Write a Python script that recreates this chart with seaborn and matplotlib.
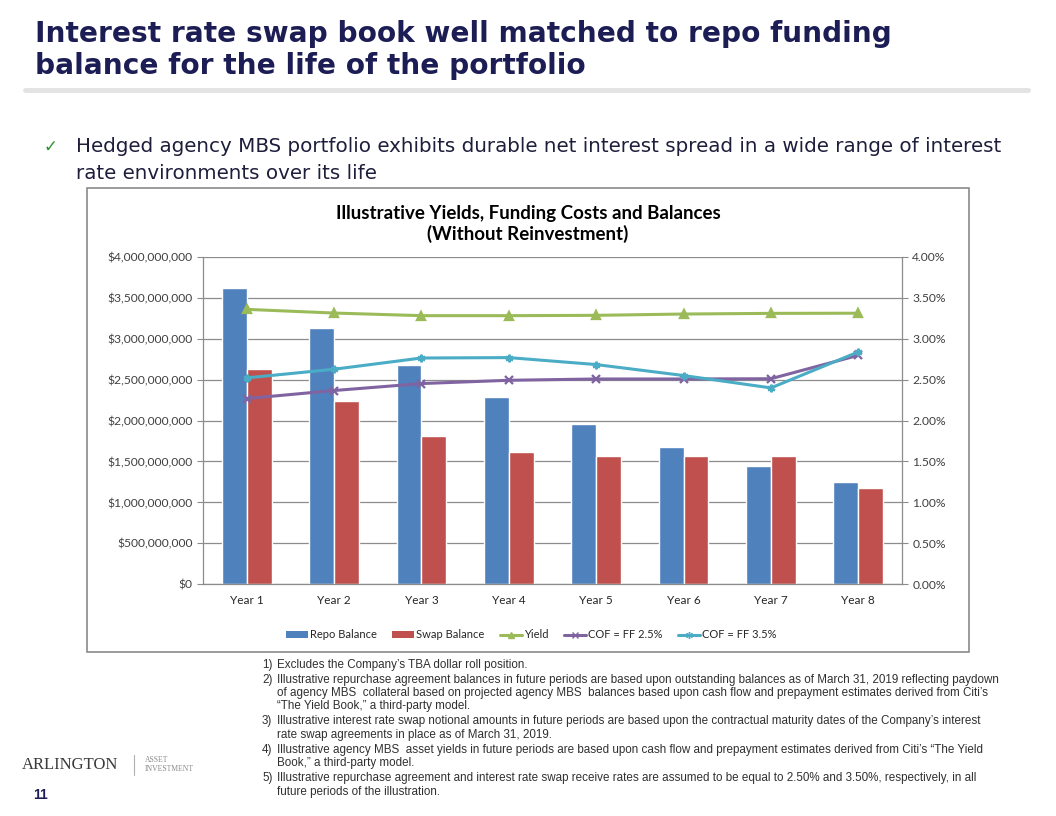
import numpy as np
import pandas as pd
import matplotlib
matplotlib.use("Agg")
import matplotlib.pyplot as plt
import seaborn as sns
from matplotlib.patches import Rectangle, Patch
from matplotlib.lines import Line2D
from matplotlib.ticker import FuncFormatter, MultipleLocator

# ---------------- data ----------------
years = ["Year 1", "Year 2", "Year 3", "Year 4", "Year 5", "Year 6", "Year 7", "Year 8"]
repo_balance = [3.622e9, 3.129e9, 2.678e9, 2.288e9, 1.959e9, 1.674e9, 1.443e9, 1.244e9]
swap_balance = [2.626e9, 2.235e9, 1.812e9, 1.610e9, 1.568e9, 1.568e9, 1.570e9, 1.171e9]
yield_pct = [3.357, 3.312, 3.280, 3.280, 3.284, 3.300, 3.308, 3.310]
cof_25 = [2.268, 2.366, 2.451, 2.491, 2.507, 2.507, 2.510, 2.796]
cof_35 = [2.520, 2.626, 2.763, 2.768, 2.683, 2.549, 2.398, 2.837]

bar_series = ["Repo Balance", "Swap Balance"]
line_series = ["Yield", "COF = FF 2.5%", "COF = FF 3.5%"]

title_lines = ["Interest rate swap book well matched to repo funding",
               "balance for the life of the portfolio"]
bullet_lines = ["Hedged agency MBS portfolio exhibits durable net interest spread in a wide range of interest",
                "rate environments over its life"]
chart_title = "Illustrative Yields, Funding Costs and Balances\n(Without Reinvestment)"
footnotes = [
    ("1)", ["Excludes the Company\u2019s TBA dollar roll position."]),
    ("2)", ["Illustrative repurchase agreement balances in future periods are based upon outstanding balances as of March 31, 2019 reflecting paydown",
            "of agency MBS  collateral based on projected agency MBS  balances based upon cash flow and prepayment estimates derived from Citi\u2019s",
            "\u201cThe Yield Book,\u201d a third-party model."]),
    ("3)", ["Illustrative interest rate swap notional amounts in future periods are based upon the contractual maturity dates of the Company\u2019s interest",
            "rate swap agreements in place as of March 31, 2019."]),
    ("4)", ["Illustrative agency MBS  asset yields in future periods are based upon cash flow and prepayment estimates derived from Citi\u2019s \u201cThe Yield",
            "Book,\u201d a third-party model."]),
    ("5)", ["Illustrative repurchase agreement and interest rate swap receive rates are assumed to be equal to 2.50% and 3.50%, respectively, in all",
            "future periods of the illustration."]),
]

bar_colors = ["#4F81BD", "#C0504D"]
line_colors = ["#9BBB59", "#8064A2", "#4BACC6"]

bars_df = pd.DataFrame({
    "Year": years * 2,
    "Series": [bar_series[0]] * len(years) + [bar_series[1]] * len(years),
    "Value": repo_balance + swap_balance,
})
lines_df = pd.DataFrame({
    "Year": years * 3,
    "Series": sum([[s] * len(years) for s in line_series], []),
    "Rate": yield_pct + cof_25 + cof_35,
})

# ---------------- figure ----------------
W, H = 1056, 816
fig = plt.figure(figsize=(W / 100, H / 100), dpi=100)
fig.patch.set_facecolor("white")

def fx(x):
    return x / W

def fy(y):
    return 1 - y / H

sns.set_style("white")
chart_font = ["Lato", "DejaVu Sans"]
sans = ["Liberation Sans", "DejaVu Sans"]
wide = ["DejaVu Sans"]

# page title
navy = "#1d1d55"
fig.text(fx(35), fy(42), title_lines[0], fontsize=20.2, fontweight="bold", color=navy,
         family=wide, va="baseline", ha="left")
fig.text(fx(35), fy(74), title_lines[1], fontsize=20.2, fontweight="bold", color=navy,
         family=wide, va="baseline", ha="left")
fig.add_artist(Line2D([fx(25), fx(1028)], [fy(90), fy(90)], color="#e3e3e3", lw=3.5))

# bullet
fig.text(fx(44), fy(152), "\u2713", fontsize=12, color="#2f8f2f", family=["DejaVu Sans"],
         va="baseline", ha="left")
fig.text(fx(76), fy(152), bullet_lines[0], fontsize=14.3, color="#1e1e3c", family=wide,
         va="baseline", ha="left")
fig.text(fx(76), fy(179), bullet_lines[1], fontsize=14.3, color="#1e1e3c", family=wide,
         va="baseline", ha="left")

# chart frame
fig.add_artist(Rectangle((fx(87), fy(652)), fx(969) - fx(87), fy(188) - fy(652),
                         transform=fig.transFigure, fill=False, edgecolor="#8a8a8a", lw=1.2))
fig.text(fx(528), fy(224), chart_title, fontsize=13.5, fontweight="bold", color="black",
         family=chart_font, ha="center", va="center", linespacing=1.2)

# axes
ax = fig.add_axes([fx(203), fy(584.3), fx(902) - fx(203), fy(256.7) - fy(584.3)])
sns.barplot(data=bars_df, x="Year", y="Value", hue="Series", palette=bar_colors,
            width=0.57, gap=0, saturation=1, ax=ax, legend=False, errorbar=None)
ax.set_ylim(0, 4e9)
ax.yaxis.set_major_locator(MultipleLocator(5e8))
ax.yaxis.set_major_formatter(FuncFormatter(lambda v, p: "${:,.0f}".format(v)))
ax.set_xlim(-0.5, len(years) - 0.5)
ax.set_axisbelow(True)
ax.grid(axis="y", color="#8c8c8c", lw=0.9)
ax.grid(axis="x", visible=False)
ax.set_xlabel("")
ax.set_ylabel("")
for s in ["top", "right"]:
    ax.spines[s].set_visible(False)
for s in ["left", "bottom"]:
    ax.spines[s].set_color("#8c8c8c")
    ax.spines[s].set_linewidth(0.9)
ax.set_xticks(np.arange(-0.5, len(years)), minor=True)
ax.tick_params(axis="x", which="major", length=0, pad=8, labelsize=8.5, labelcolor="#262626")
ax.tick_params(axis="x", which="minor", length=4, color="#8c8c8c", direction="out")
ax.tick_params(axis="y", length=4, color="#8c8c8c", direction="out", labelsize=8.7,
               labelcolor="#404040", left=True)
for lab in ax.get_xticklabels() + ax.get_yticklabels():
    lab.set_family(chart_font)

ax2 = ax.twinx()
sns.pointplot(data=lines_df, x="Year", y="Rate", hue="Series", palette=line_colors,
              markers=["^", "x", (6, 2, 0)], linestyles=["-", "-", "-"], dodge=False,
              errorbar=None, ax=ax2, legend=False, markersize=5.5, linewidth=2.2)
ax2.set_ylim(0, 4.0)
ax2.set_xlim(-0.5, len(years) - 0.5)
ax2.yaxis.set_major_locator(MultipleLocator(0.5))
ax2.yaxis.set_major_formatter(FuncFormatter(lambda v, p: "{:.2f}%".format(v)))
ax2.set_xlabel("")
ax2.set_ylabel("")
for s in ["top", "left", "bottom"]:
    ax2.spines[s].set_visible(False)
ax2.spines["right"].set_color("#8c8c8c")
ax2.spines["right"].set_linewidth(0.9)
ax2.tick_params(axis="y", length=4, color="#8c8c8c", direction="out", labelsize=8.7,
                labelcolor="#404040", right=True)
ax2.grid(False)
for lab in ax2.get_yticklabels():
    lab.set_family(chart_font)

# legend
handles = [Patch(facecolor=bar_colors[0], edgecolor="none"),
           Patch(facecolor=bar_colors[1], edgecolor="none"),
           Line2D([], [], color=line_colors[0], marker="^", lw=2.2, ms=5),
           Line2D([], [], color=line_colors[1], marker="x", lw=2.2, ms=5),
           Line2D([], [], color=line_colors[2], marker=(6, 2, 0), lw=2.2, ms=5)]
labels = bar_series + line_series
fig.legend(handles, labels, loc="center", bbox_to_anchor=(fx(531), fy(635)), ncol=5,
           frameon=False, prop={"family": chart_font, "size": 8}, handlelength=2.0,
           handleheight=0.5, handletextpad=0.15, columnspacing=1.4)

# footnotes
ys = [665, 680, 693, 706, 721, 735, 750, 763, 778, 792]
i = 0
for num, lines in footnotes:
    fig.text(fx(262), fy(ys[i]), num, fontsize=8.4, color="#303030", family=sans,
             va="center", ha="left")
    for ln in lines:
        fig.text(fx(277), fy(ys[i]), ln, fontsize=8.4, color="#303030", family=sans,
                 va="center", ha="left")
        i += 1

# logo + page number
fig.text(fx(22), fy(765), "ARLINGTON", fontsize=12, color="#3a3a3a",
         family=["Liberation Serif", "DejaVu Serif"], va="center", ha="left")
fig.add_artist(Line2D([fx(134), fx(134)], [fy(755), fy(775)], color="#b0b0b0", lw=0.8))
fig.text(fx(145), fy(760), "ASSET", fontsize=5.5, color="#8a8a8a",
         family=["Liberation Serif", "DejaVu Serif"], va="center", ha="left")
fig.text(fx(145), fy(769), "INVESTMENT", fontsize=5.5, color="#8a8a8a",
         family=["Liberation Serif", "DejaVu Serif"], va="center", ha="left")
fig.text(fx(33), fy(795), "11", fontsize=10, fontweight="bold", color=navy,
         family=sans, va="center", ha="left")

fig.savefig("out.png", dpi=100, facecolor="white")
